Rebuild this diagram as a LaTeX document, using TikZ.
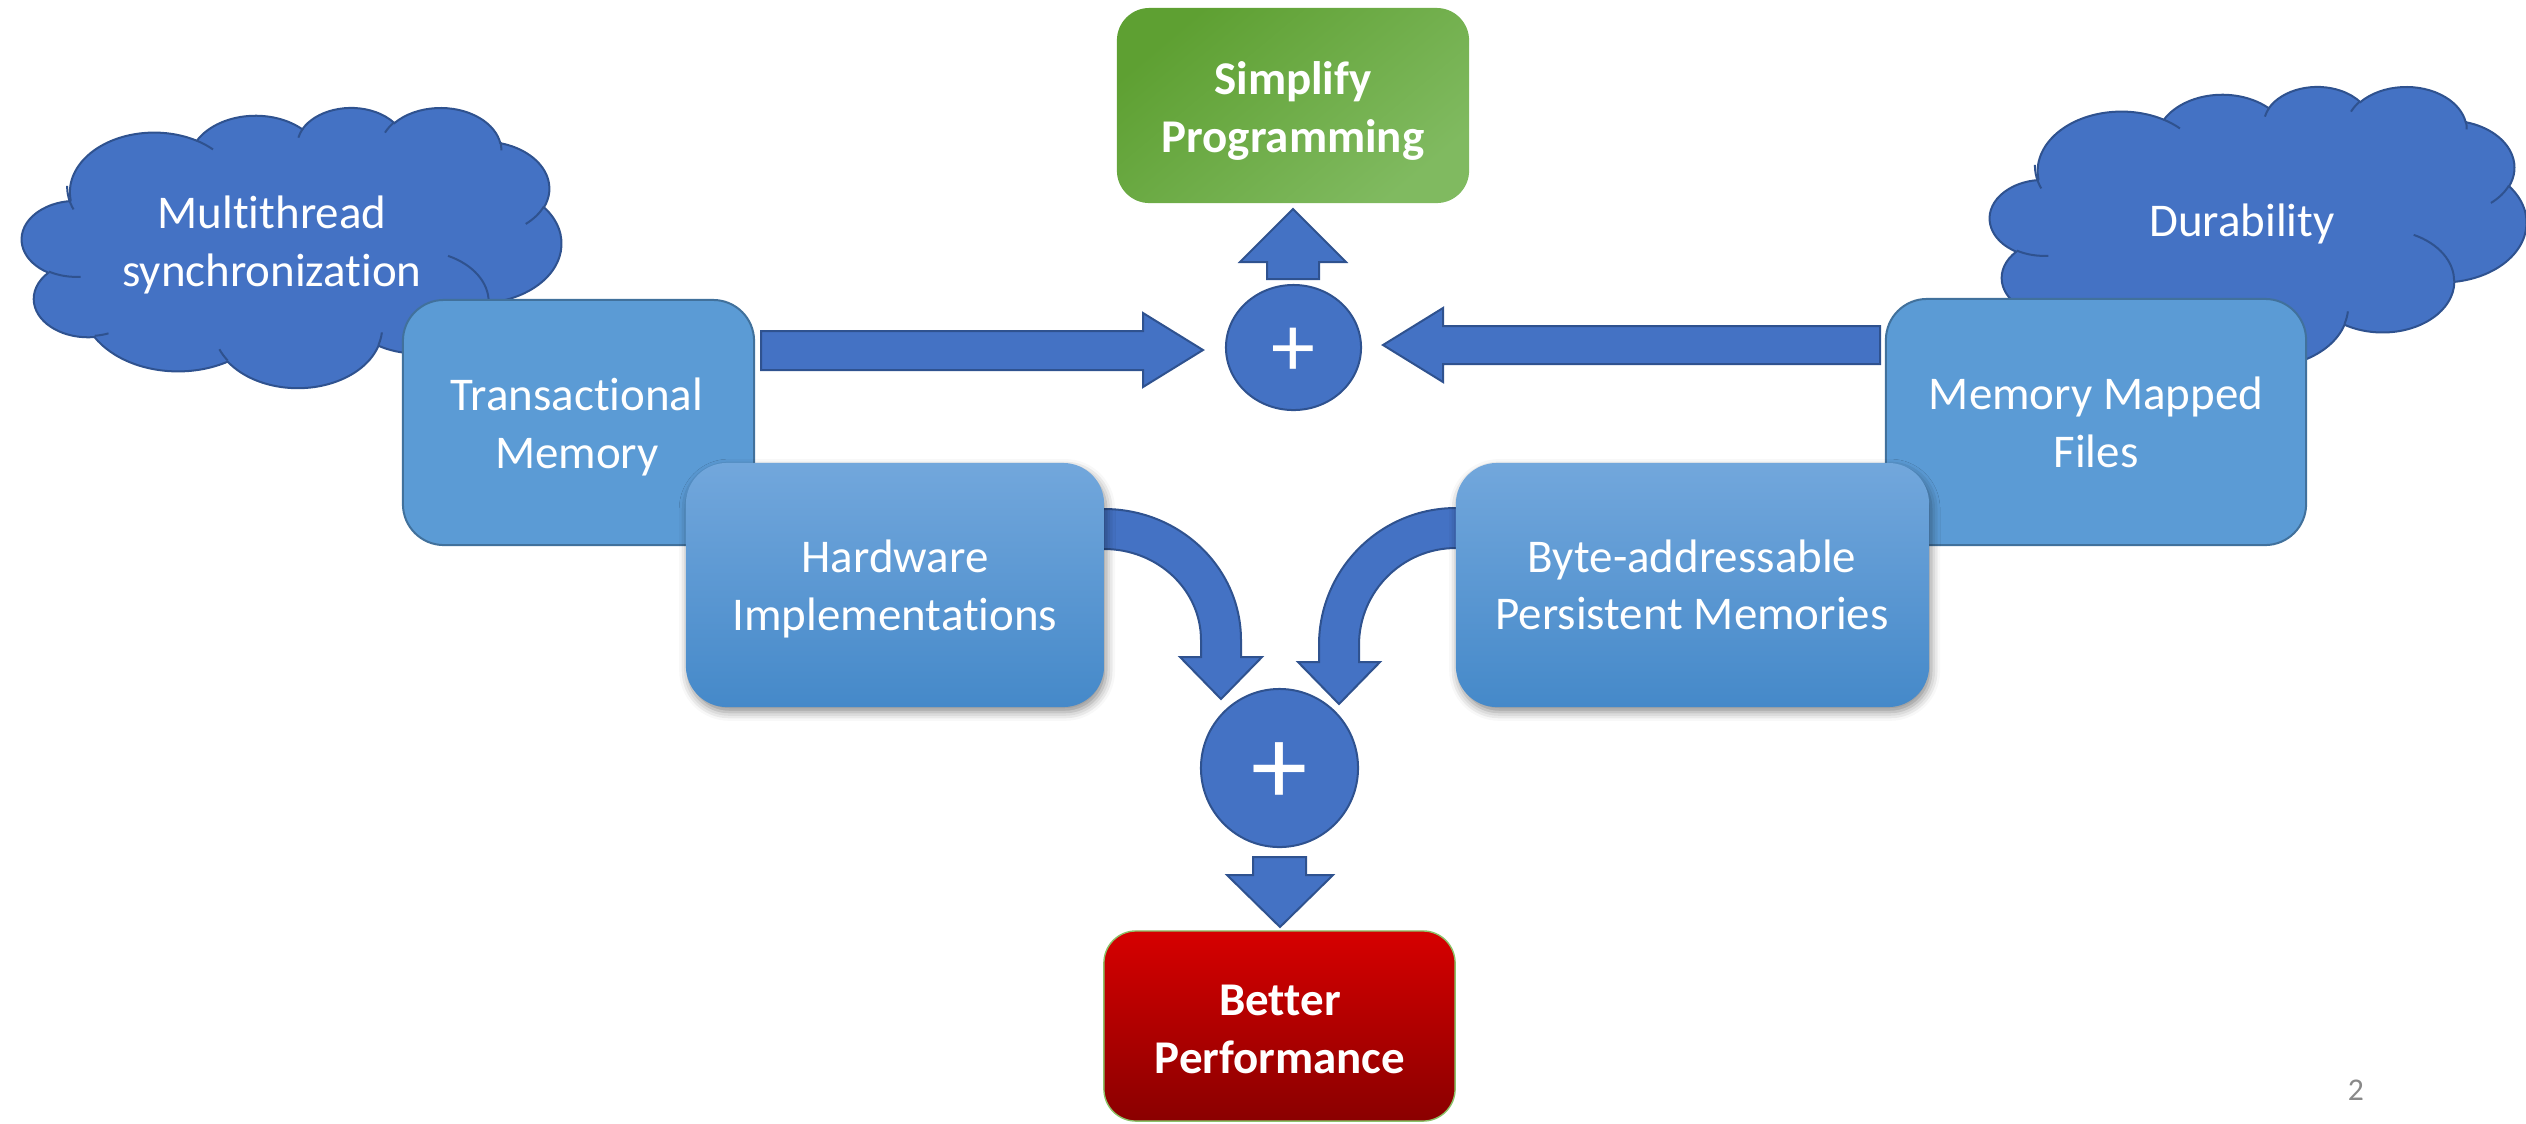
\documentclass[tikz,border=0pt]{standalone}
\usepackage{fontspec}
\setmainfont{Carlito}[Ligatures=NoCommon]
\usetikzlibrary{shapes.geometric,shadows.blur}

\definecolor{cloudfill}{HTML}{4472C4}
\definecolor{cloudline}{HTML}{2F528F}
\definecolor{boxfill}{HTML}{5B9BD5}
\definecolor{boxline}{HTML}{41719C}
\definecolor{gradtop}{HTML}{72A7DC}
\definecolor{gradbot}{HTML}{4589C9}
\definecolor{greenA}{HTML}{5EA032}
\definecolor{greenB}{HTML}{80BA60}
\definecolor{redA}{HTML}{D60000}
\definecolor{redB}{HTML}{8A0000}
\definecolor{redline}{HTML}{8CC168}
\definecolor{pagegray}{HTML}{898989}

% parametric angle of an elliptic arc point given by its visual angle
\makeatletter
\pgfmathdeclarefunction{pang}{3}{%
  \begingroup
    \pgfmathparse{atan2((#2)*sin(#1),(#3)*cos(#1))}%
    \let\pa@t\pgfmathresult
    \pgfmathparse{(#1)+atan2(sin((\pa@t)-(#1)),cos((\pa@t)-(#1)))}%
    \pgfmath@smuggleone\pgfmathresult
  \endgroup}
\makeatother

\tikzset{
  txt/.style={text=white, align=center, inner sep=0pt,
    font=\fontsize{13.35pt}{16.45pt}\selectfont},
  btxt/.style={text=white, align=center, inner sep=0pt,
    font=\fontsize{13.35pt}{16.45pt}\selectfont\bfseries},
  plustxt/.style={text=white, inner sep=0pt},
  cloudshape/.style={fill=cloudfill, draw=cloudline, line width=0.57pt},
  blockarrow/.style={fill=cloudfill, draw=cloudline, line width=0.57pt, line join=miter},
  plusdisc/.style={ellipse, fill=cloudfill, draw=cloudline, line width=0.57pt, inner sep=0pt},
  flatbox/.style={rectangle, rounded corners=0.41cm, fill=boxfill, draw=boxline,
    line width=0.57pt, inner sep=0pt},
  gradbox/.style={rectangle, rounded corners=0.41cm, top color=gradtop, bottom color=gradbot,
    draw=none, inner sep=0pt,
    blur shadow={shadow xshift=0.6pt, shadow yshift=-1.4pt, shadow blur radius=2.5pt, shadow opacity=45}},
  goalgreen/.style={rectangle, rounded corners=0.325cm, top color=greenA, bottom color=greenB,
    shading angle=40, draw=none, inner sep=0pt},
  goalred/.style={rectangle, rounded corners=0.32cm, top color=redA, bottom color=redB,
    draw=redline, line width=0.4pt, inner sep=0pt}
}

% cloud outline with its inner puff arcs; #1 name, (#2,#3) top-left, #4 x #5 size
\newcommand\pptcloud[5]{%
  \pgfmathsetmacro\cldx{#4*0.2845276/432}%
  \pgfmathsetmacro\cldy{-#5*0.2845276/432}%
  \begin{scope}[shift={(#2,#3)}, x=\cldx pt, y=\cldy pt]
    \coordinate (#1) at (216,216);
    \filldraw[cloudshape] (39.00,143.70)
      arc[x radius=67.53, y radius=91.90, start angle={pang(-190.4875,67.53,91.90)}, end angle={pang(-66.7070,67.53,91.90)}]
      arc[x radius=53.33, y radius=72.67, start angle={pang(-144.1024,53.33,72.67)}, end angle={pang(-54.1572,53.33,72.67)}]
      arc[x radius=43.65, y radius=59.45, start angle={pang(-145.8079,43.65,59.45)}, end angle={pang(-46.0849,43.65,59.45)}]
      arc[x radius=48.57, y radius=65.95, start angle={pang(-130.9861,48.57,65.95)}, end angle={pang(-13.7444,48.57,65.95)}]
      arc[x radius=53.33, y radius=72.73, start angle={pang(-78.7089,53.33,72.73)}, end angle={pang(30.3180,53.33,72.73)}]
      arc[x radius=67.75, y radius=92.20, start angle={pang(-46.2673,67.75,92.20)}, end angle={pang(84.0017,67.75,92.20)}]
      arc[x radius=57.85, y radius=78.67, start angle={pang(0.6250,57.85,78.67)}, end angle={pang(114.6583,57.85,78.67)}]
      arc[x radius=67.52, y radius=92.15, start angle={pang(22.4516,67.52,92.15)}, end angle={pang(137.6242,67.52,92.15)}]
      arc[x radius=77.20, y radius=105.43, start angle={pang(66.2426,77.20,105.43)}, end angle={pang(141.9536,77.20,105.43)}]
      arc[x radius=43.60, y radius=59.18, start angle={pang(-274.9421,43.60,59.18)}, end angle={pang(-128.2065,43.60,59.18)}]
      arc[x radius=43.45, y radius=59.45, start angle={pang(-246.8285,43.45,59.45)}, end angle={pang(-94.3096,43.45,59.45)}]
      -- cycle;
    \draw[cloudshape, fill=none]
      (46.93,261.77) arc[x radius=43.45, y radius=59.45, start angle={pang(86.7420,43.45,59.45)}, end angle={pang(113.1715,43.45,59.45)}]
      (69.28,348.99) arc[x radius=43.60, y radius=59.18, start angle={pang(73.6105,43.60,59.18)}, end angle={pang(85.0580,43.60,59.18)}]
      (164.78,390.90) arc[x radius=67.52, y radius=92.15, start angle={pang(137.6242,67.52,92.15)}, end angle={pang(151.7053,67.52,92.15)}]
      (288.27,347.51) arc[x radius=67.52, y radius=92.15, start angle={pang(6.4533,67.52,92.15)}, end angle={pang(22.4517,67.52,92.15)}]
      (341.29,229.54) arc[x radius=57.85, y radius=78.67, start angle={pang(-70.2924,57.85,78.67)}, end angle={pang(0.6250,57.85,78.67)}]
      (417.98,153.54) arc[x radius=53.33, y radius=72.73, start angle={pang(30.3180,53.33,72.73)}, end angle={pang(58.0695,53.33,72.73)}]
      (383.24,54.26) arc[x radius=48.57, y radius=65.95, start angle={pang(-13.7443,48.57,65.95)}, end angle={pang(1.1146,48.57,65.95)}]
      (290.78,39.52) arc[x radius=48.57, y radius=65.95, start angle={pang(-149.1815,48.57,65.95)}, end angle={pang(-130.9861,48.57,65.95)}]
      (221.41,47.20) arc[x radius=43.65, y radius=59.45, start angle={pang(-163.4943,43.65,59.45)}, end angle={pang(-145.8080,43.65,59.45)}]
      (140.00,51.92) arc[x radius=67.53, y radius=91.90, start angle={pang(-66.7070,67.53,91.90)}, end angle={pang(-54.3876,67.53,91.90)}]
      (41.27,157.89) arc[x radius=67.53, y radius=91.90, start angle={pang(150.7871,67.53,91.90)}, end angle={pang(181.2332,67.53,91.90)}];
  \end{scope}}

\begin{document}
\begin{tikzpicture}[x=0.01cm, y=-0.01cm]
  \useasboundingbox (0,0) rectangle (2526,1123);

  % clouds
  \pptcloud{syncCloud}{22}{107}{539}{280}
  \node[txt] (syncText) at (272,245.3) {Multithread\\synchronization};
  \pptcloud{durCloud}{1990}{86}{536}{280}
  \node[txt] (durText) at (2242,223.8) {Durability};

  % software approaches
  \node[flatbox, minimum width=3.51cm, minimum height=2.45cm] (tm) at (578.5,422.5) {};
  \node[txt] (tmText) at (577,426.8) {Transactional\\Memory};
  \node[flatbox, minimum width=4.20cm, minimum height=2.46cm] (mmf) at (2096,422) {};
  \node[txt] (mmfText) at (2096,422.3) {Memory Mapped\\Files};

  % top sum and goal
  \node[plusdisc, minimum width=1.35cm, minimum height=1.25cm] (sumTop) at (1293.5,347.5) {};
  \node[plustxt, font=\fontsize{25pt}{30pt}\selectfont] (sumTopSign) at (1293.7,352) {+};
  \node[goalgreen, minimum width=3.52cm, minimum height=1.95cm] (simplify) at (1293,105.5) {};
  \node[btxt] (simplifyText) at (1293,111.3) {Simplify\\Programming};

  % block arrows into the top sum
  \filldraw[blockarrow] (761,331) -- (1143,331) -- (1143,313) -- (1203,350)
    -- (1143,387) -- (1143,370) -- (761,370) -- cycle;
  \filldraw[blockarrow] (1880,326) -- (1443,326) -- (1443,308) -- (1383,345)
    -- (1443,382) -- (1443,364) -- (1880,364) -- cycle;
  \filldraw[blockarrow] (1267,279) -- (1267,262) -- (1240,262) -- (1293,209)
    -- (1346,262) -- (1319,262) -- (1319,279) -- cycle;

  % curved arrows into the bottom sum
  \filldraw[blockarrow] (1095,509) -- (1104,509)
    arc[start angle=-90, end angle=0, x radius=137, y radius=131]
    -- (1241,657) -- (1262,657) -- (1221,699) -- (1180,657) -- (1201,657) -- (1201,640)
    arc[start angle=0, end angle=-90, x radius=97, y radius=91]
    -- (1095,549) -- cycle;
  \filldraw[blockarrow] (1465,508) -- (1456,508)
    arc[start angle=-90, end angle=-180, x radius=137, y radius=137]
    -- (1319,662) -- (1298,662) -- (1339,704) -- (1380,662) -- (1359,662) -- (1359,645)
    arc[start angle=180, end angle=270, x radius=97, y radius=97]
    -- (1465,548) -- cycle;

  % hardware approaches
  \node[gradbox, minimum width=4.18cm, minimum height=2.44cm] (hw) at (895,585) {};
  \node[txt] (hwText) at (895,589.3) {Hardware\\Implementations};
  \node[gradbox, minimum width=4.73cm, minimum height=2.44cm] (bpm) at (1692.5,585) {};
  \node[txt] (bpmText) at (1692,584.8) {Byte-addressable\\Persistent Memories};

  % bottom sum and goal
  \node[plusdisc, minimum width=1.57cm, minimum height=1.58cm] (sumBot) at (1279.5,768) {};
  \node[plustxt, font=\fontsize{32pt}{38pt}\selectfont] (sumBotSign) at (1280,774) {+};
  \filldraw[blockarrow] (1253,857) -- (1306,857) -- (1306,875) -- (1333,875)
    -- (1280,927) -- (1227,875) -- (1253,875) -- cycle;
  \node[goalred, minimum width=3.51cm, minimum height=1.90cm] (perf) at (1279.5,1026) {};
  \node[btxt] (perfText) at (1280,1029.8) {Better\\Performance};

  % slide number
  \node[anchor=base, text=pagegray, inner sep=0pt, font=\fontsize{9pt}{11pt}\selectfont] (pageNo) at (2356,1100) {2};
\end{tikzpicture}
\end{document}
